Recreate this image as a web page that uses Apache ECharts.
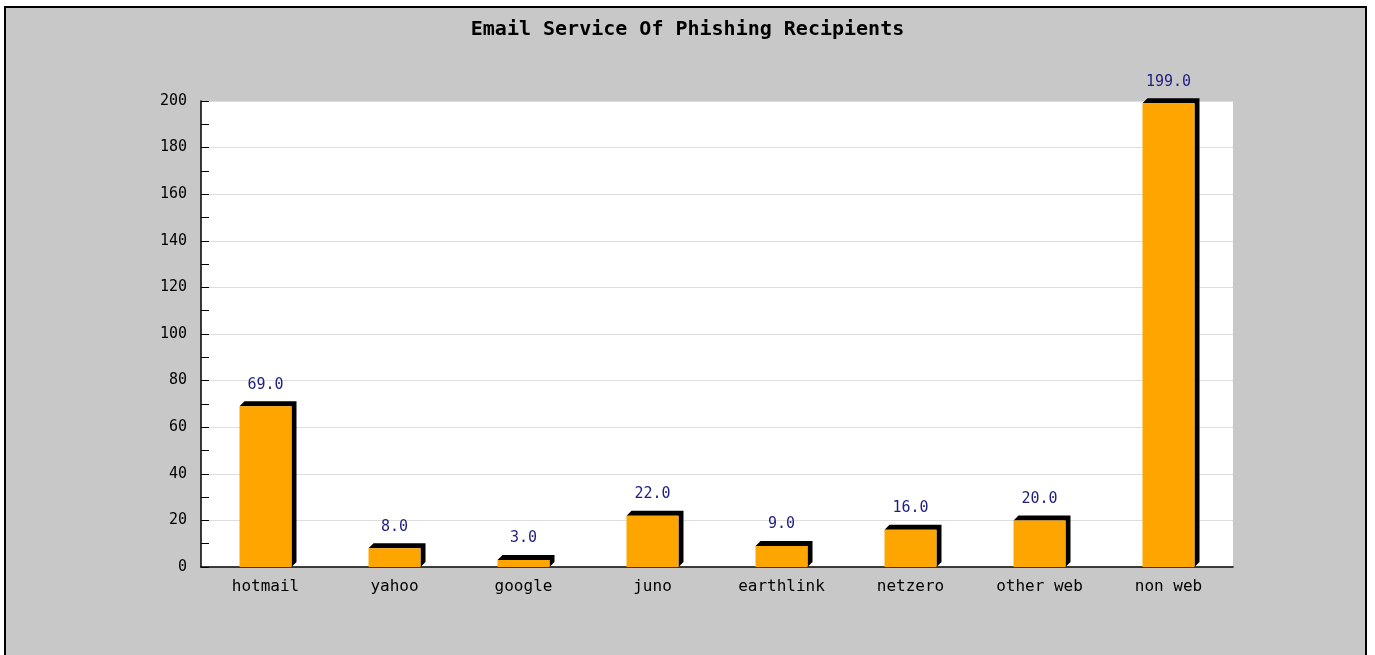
<!DOCTYPE html>
<html><head><meta charset="utf-8">
<script src="https://cdn.jsdelivr.net/npm/echarts@6/dist/echarts.min.js"></script>
<style>html,body{margin:0;padding:0;background:#fff;}#c{width:1375px;height:655px;}</style>
</head><body><div id="c"></div>
<script>
const titleText = 'Email Service Of Phishing Recipients';
const categories = ['hotmail','yahoo','google','juno','earthlink','netzero','other web','non web'];
const values = [69, 8, 3, 22, 9, 16, 20, 199];
const yTicks = {min: 0, max: 200, interval: 20};

const BAR_W = 52, DEPTH = 5;
const chart = echarts.init(document.getElementById('c'));
const mono = '"DejaVu Sans Mono", "Liberation Mono", monospace';
chart.setOption({
  backgroundColor: '#ffffff',
  animation: false,
  graphic: [{
    type: 'rect', z: -10, silent: true,
    shape: {x: 5, y: 7, width: 1361, height: 700},
    style: {fill: '#c8c8c8', stroke: '#000', lineWidth: 2}
  }],
  title: {
    text: titleText, left: 'center', top: 15,
    textStyle: {fontFamily: mono, fontSize: 20, fontWeight: 'bold', color: '#000'}
  },
  grid: {left: 201, right: 142, top: 101, bottom: 88, show: true, backgroundColor: '#fff', borderWidth: 0},
  xAxis: {
    type: 'category', data: categories,
    axisLine: {lineStyle: {color: '#000', width: 1.5}},
    axisTick: {inside: true, length: 8, lineStyle: {color: '#000'}},
    axisLabel: {color: '#000', fontFamily: mono, fontSize: 16, margin: 12}
  },
  yAxis: {
    type: 'value', min: yTicks.min, max: yTicks.max, interval: yTicks.interval,
    axisLine: {show: true, lineStyle: {color: '#000', width: 1.5}},
    axisTick: {show: true, inside: true, length: 8, lineStyle: {color: '#000'}},
    minorTick: {show: true, splitNumber: 2, length: 8, lineStyle: {color: '#000'}},
    splitLine: {lineStyle: {color: '#dddddd'}},
    axisLabel: {color: '#000', fontFamily: mono, fontSize: 15, margin: 14}
  },
  series: [{
    type: 'custom', z: 1,
    data: values.map((v, i) => [i, v]),
    renderItem: function (params, api) {
      const top = api.coord([api.value(0), api.value(1)]);
      const base = api.coord([api.value(0), 0]);
      const x0 = top[0] - BAR_W / 2, x1 = top[0] + BAR_W / 2;
      return {
        type: 'polygon',
        shape: {points: [
          [x0, top[1]], [x0 + DEPTH, top[1] - DEPTH], [x1 + DEPTH, top[1] - DEPTH],
          [x1 + DEPTH, base[1] - DEPTH], [x1, base[1]], [x1, top[1]]
        ]},
        style: {fill: '#000'}
      };
    }
  }, {
    type: 'bar', data: values, barWidth: BAR_W, z: 2,
    itemStyle: {color: '#ffa500'},
    label: {
      show: true, position: 'top', distance: 14,
      formatter: p => p.value.toFixed(1),
      color: '#1e1e80', fontFamily: mono, fontSize: 15
    }
  }]
});
</script></body></html>
